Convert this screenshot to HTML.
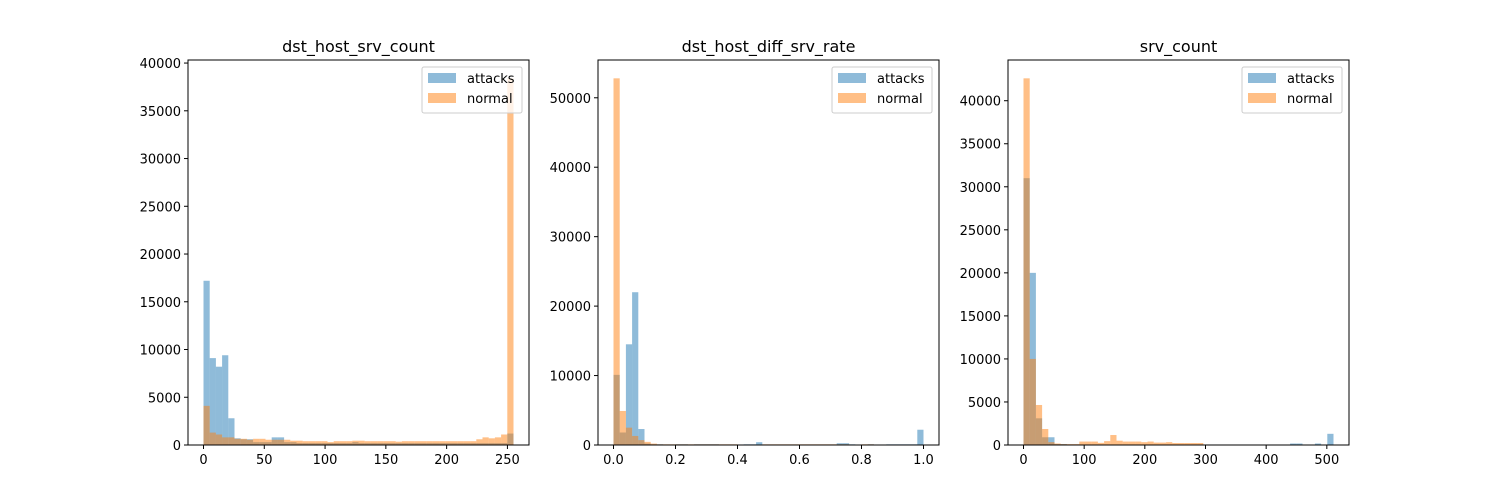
<!DOCTYPE html>
<html><head><meta charset="utf-8"><style>
body{margin:0;background:#fff;}
svg{display:block;font-family:"DejaVu Sans","Liberation Sans",sans-serif;}
</style></head><body>
<svg id="fig" width="1500" height="500"></svg>
<script>
const titles=["dst_host_srv_count","dst_host_diff_srv_rate","srv_count"];
const binRanges=[[0,255],[0,1],[0,511]];
const attacks1=[17200,9100,8200,9400,2800,700,600,600,300,300,300,800,800,300,300,200,200,200,200,200,200,200,200,200,300,200,200,200,200,200,200,200,200,200,200,200,200,200,200,200,200,200,200,200,200,200,200,200,200,1200];
const normal1=[4100,1300,1100,800,800,650,650,550,650,650,550,550,550,550,450,450,400,400,400,400,300,400,400,400,450,450,400,400,400,400,400,350,400,400,400,400,400,400,400,400,400,400,400,400,600,800,700,800,1100,38400];
const attacks2=[10100,1800,14500,22000,2300,200,100,100,0,0,100,100,0,100,100,100,100,0,0,0,0,100,100,400,0,0,0,0,0,0,0,0,0,0,0,0,250,250,100,0,0,100,0,0,100,100,100,100,100,2200];
const normal2=[52800,4900,2500,1300,700,450,200,100,100,100,100,100,100,100,100,100,100,100,100,100,0,0,0,0,100,100,100,100,100,100,100,100,100,100,100,100,100,100,0,0,100,100,0,0,0,0,0,0,0,0];
const attacks3=[31000,20000,3100,900,900,100,100,0,0,0,0,0,0,0,0,0,0,0,0,0,0,0,0,0,0,0,0,0,0,0,0,0,0,0,0,0,0,0,0,0,0,0,0,170,170,0,0,170,0,1300];
const normal3=[42600,10000,4650,1860,330,170,100,100,100,400,400,400,250,450,1160,500,400,400,400,330,400,280,280,330,230,230,230,230,230,0,0,0,0,0,0,0,0,0,0,0,0,0,0,0,0,0,0,0,0,0];
const xTicks=[[0,50,100,150,200,250],[0,0.2,0.4,0.6,0.8,1.0],[0,100,200,300,400,500]];
const xTickLabels=[["0","50","100","150","200","250"],["0.0","0.2","0.4","0.6","0.8","1.0"],["0","100","200","300","400","500"]];
const yTicks=[[0,5000,10000,15000,20000,25000,30000,35000,40000],[0,10000,20000,30000,40000,50000],[0,5000,10000,15000,20000,25000,30000,35000,40000]];
const series=[[attacks1,normal1],[attacks2,normal2],[attacks3,normal3]];
const NS="http://www.w3.org/2000/svg";
const svg=document.getElementById('fig');
function mk(tag,attrs,parent){const e=document.createElementNS(NS,tag);for(const k in attrs)e.setAttribute(k,attrs[k]);(parent||svg).appendChild(e);return e;}
const axL=[188,598,1008],axW=341,axT=60,axB=445;
for(let p=0;p<3;p++){
  const g=mk('g',{});
  
  
  const [lo,hi]=binRanges[p];const span=hi-lo;
  const xmin=lo-0.05*span,xmax=hi+0.05*span;
  const [att,nor]=series[p];
  const ymax=1.05*Math.max(...att,...nor);
  const X=v=>axL[p]+(v-xmin)/(xmax-xmin)*axW;
  const Y=v=>axB-v/ymax*(axB-axT);
  const n=att.length,bw=span/n;
  [[att,'#1f77b4','attacks'],[nor,'#ff7f0e','normal']].forEach(([arr,col,nm])=>{
    arr.forEach((v,i)=>{
      if(v<=0)return;
      const x0=X(lo+i*bw),x1=X(lo+(i+1)*bw);
      const r=mk('rect',{x:x0,y:Y(v),width:x1-x0,height:axB-Y(v),fill:col,'fill-opacity':0.5},g);
      
      
    });
  });
  const fr=mk('rect',{x:axL[p],y:axT,width:axW,height:axB-axT,fill:'none',stroke:'#000','stroke-width':1},g);
  
  
  xTicks[p].forEach((t,i)=>{
    const x=X(t);
    mk('line',{x1:x,x2:x,y1:axB,y2:axB+4,stroke:'#000'},g);
    const tx=mk('text',{x:x,y:axB+19,'text-anchor':'middle','font-size':13},g);
    tx.textContent=xTickLabels[p][i];
    
    
  });
  yTicks[p].forEach(t=>{
    const y=Y(t);
    mk('line',{x1:axL[p]-4,x2:axL[p],y1:y,y2:y,stroke:'#000'},g);
    const tx=mk('text',{x:axL[p]-7,y:y+5,'text-anchor':'end','font-size':13},g);
    tx.textContent=String(t);
    
    
  });
  const ti=mk('text',{x:axL[p]+axW/2,y:52,'text-anchor':'middle','font-size':16},g);
  ti.textContent=titles[p];
  
  
  const lg=mk('g',{},g);
  
  
  const lx=axL[p]+axW-107;
  mk('rect',{x:lx,y:67,width:100,height:46,rx:2,fill:'#fff','fill-opacity':0.8,stroke:'#ccc'},lg);
  mk('rect',{x:lx+6,y:73,width:28,height:10,fill:'#1f77b4','fill-opacity':0.5},lg);
  mk('rect',{x:lx+6,y:93,width:28,height:10,fill:'#ff7f0e','fill-opacity':0.5},lg);
  const t1=mk('text',{x:lx+45,y:83,'font-size':13},lg);t1.textContent='attacks';
  
  
  const t2=mk('text',{x:lx+45,y:103,'font-size':13},lg);t2.textContent='normal';
  
  
}
</script>
</body></html>
